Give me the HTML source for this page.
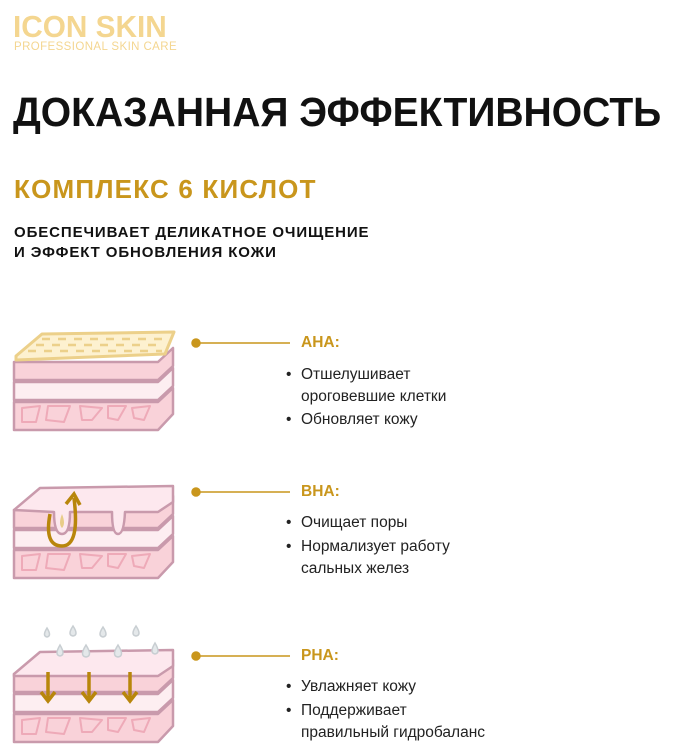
<!DOCTYPE html>
<html><head><meta charset="utf-8"><style>
body{margin:0;width:675px;height:752px;background:#fff;position:relative;overflow:hidden;font-family:"Liberation Sans",sans-serif}
.t{position:absolute;white-space:nowrap;transform-origin:0 0}
.logo{left:13px;top:9px;font-size:31px;font-weight:bold;color:#f4d690;transform:scaleX(.96)}
.sub{left:14px;top:41px;font-size:11.5px;color:#f4d690;letter-spacing:.4px}
.h1{left:13px;top:89px;font-size:41px;font-weight:bold;color:#111;transform:scaleX(.952)}
.h2{left:14px;top:174px;font-size:26px;font-weight:bold;color:#c9961c;letter-spacing:1.2px}
.h3{left:14px;top:223px;font-size:15px;font-weight:bold;color:#111;line-height:20px;letter-spacing:.9px}
.lab{font-size:15.5px;font-weight:bold;color:#c9961c;left:301px}
.b{left:286px;font-size:15.5px;color:#222;line-height:22px}
.b span{position:absolute;left:0}
.b div{padding-left:15px}
</style></head><body>
<div class="t logo">ICON SKIN</div>
<div class="t sub">PROFESSIONAL SKIN CARE</div>
<div class="t h1">ДОКАЗАННАЯ ЭФФЕКТИВНОСТЬ</div>
<div class="t h2">КОМПЛЕКС 6 КИСЛОТ</div>
<div class="t h3">ОБЕСПЕЧИВАЕТ ДЕЛИКАТНОЕ ОЧИЩЕНИЕ<br>И ЭФФЕКТ ОБНОВЛЕНИЯ КОЖИ</div>

<svg width="675" height="752" style="position:absolute;left:0;top:0">
<defs>
<g id="base" stroke="#c99aac" stroke-width="2.5" stroke-linejoin="round">
 <path d="M14,72 L158,72 L173,58 L173,84 L158,100 L14,100 Z" fill="#f9d2d9"/>
 <path d="M22,78 l18,-2 l-4,16 l-14,0z M48,76 l22,0 l-6,16 l-18,-2z M80,76 l22,2 l-10,12 l-10,0z M108,76 l18,0 l-8,14 l-10,-2z M132,78 l18,-2 l-6,14 l-10,-2z" fill="none" stroke="#eeaab8" stroke-width="2"/>
 <path d="M14,52 L158,52 L173,38 L173,56 L158,70 L14,70 Z" fill="#fdeef1"/>
 <path d="M14,32 L158,32 L173,18 L173,36 L158,50 L14,50 Z" fill="#f9d2d9"/>
</g>
</defs>
<g transform="translate(0,330)">
 <use href="#base"/>
 <path d="M16,26 L42,4 L174,2 L165,24 L16,30 Z" fill="#fdf1d0" stroke="#ecd08a" stroke-width="3" stroke-linejoin="round"/>
 <g stroke="#ecd08a" stroke-width="2.5">
 <path d="M42,9 h8 M58,9 h8 M74,9 h8 M90,9 h8 M106,9 h8 M122,9 h8 M138,9 h8 M154,9 h8"/>
 <path d="M36,15 h8 M52,15 h8 M68,15 h8 M84,15 h8 M100,15 h8 M116,15 h8 M132,15 h8 M148,15 h8"/>
 <path d="M28,21 h8 M44,21 h8 M60,21 h8 M76,21 h8 M92,21 h8 M108,21 h8 M124,21 h8 M140,21 h8 M156,21 h6"/>
 </g>
</g>
<g transform="translate(0,478)">
 <use href="#base"/>
 <path d="M14,32 L40,10 L173,8 L173,24 L158,34 L125,34 Q124,56 118,56 Q112,56 112,34 L70,34 Q70,56 62,56 Q54,56 54,34 Z" fill="#fde8ee" stroke="#c99aac" stroke-width="2.5" stroke-linejoin="round"/>
 <path d="M62,36 Q58,46 62,50 Q66,46 62,36Z" fill="#e8cc88"/>
 <path d="M50,36 Q44,68 62,68 Q80,68 74,20" fill="none" stroke="#b8860b" stroke-width="3.5"/>
 <path d="M66,26 L74,16 L80,27" fill="none" stroke="#b8860b" stroke-width="3.5"/>
</g>
<g transform="translate(0,642)">
 <use href="#base"/>
 <path d="M14,32 L40,10 L173,8 L173,24 L158,34 L14,34 Z" fill="#fde8ee" stroke="#c99aac" stroke-width="2.5" stroke-linejoin="round"/>
 <g stroke="#b8860b" stroke-width="3.5" fill="none">
  <path d="M48,30 V58 M41,50 L48,59 L55,50"/>
  <path d="M89,30 V58 M82,50 L89,59 L96,50"/>
  <path d="M130,30 V58 M123,50 L130,59 L137,50"/>
 </g>
</g>
<g fill="#e4e8ea" stroke="#c8ced2" stroke-width="1.5">
 <path d="M47,628 q-5,8 0,9 q5,-1 0,-9z"/><path d="M73,626 q-6,9 0,10 q6,-1 0,-10z"/>
 <path d="M103,627 q-6,9 0,10 q6,-1 0,-10z"/><path d="M136,626 q-6,9 0,10 q6,-1 0,-10z"/>
 <path d="M60,645 q-6,10 0,11 q6,-1 0,-11z"/><path d="M86,645 q-7,11 0,12 q7,-1 0,-12z"/>
 <path d="M118,645 q-7,11 0,12 q7,-1 0,-12z"/><path d="M155,643 q-6,10 0,11 q6,-1 0,-11z"/>
</g>
<g stroke="#c9961c" stroke-width="1.5" fill="#c9961c">
 <line x1="196" y1="343" x2="290" y2="343"/><circle cx="196" cy="343" r="4"/>
 <line x1="196" y1="492" x2="290" y2="492"/><circle cx="196" cy="492" r="4"/>
 <line x1="196" y1="656" x2="290" y2="656"/><circle cx="196" cy="656" r="4"/>
</g>
</svg>

<div class="t lab" style="top:334px">AHA:</div>
<div class="t b" style="top:364px"><span>•</span><div>Отшелушивает<br>ороговевшие клетки</div></div>
<div class="t b" style="top:409px"><span>•</span><div>Обновляет кожу</div></div>

<div class="t lab" style="top:483px">BHA:</div>
<div class="t b" style="top:512px"><span>•</span><div>Очищает поры</div></div>
<div class="t b" style="top:536px"><span>•</span><div>Нормализует работу<br>сальных желез</div></div>

<div class="t lab" style="top:647px">PHA:</div>
<div class="t b" style="top:676px"><span>•</span><div>Увлажняет кожу</div></div>
<div class="t b" style="top:700px"><span>•</span><div>Поддерживает<br>правильный гидробаланс</div></div>
</body></html>
